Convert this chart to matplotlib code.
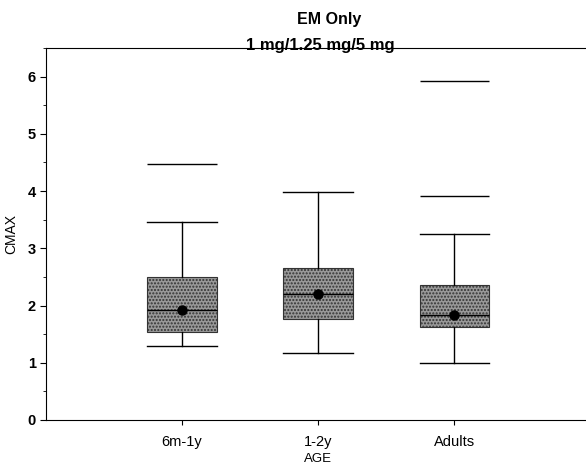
import numpy as np
import matplotlib.pyplot as plt
from matplotlib.ticker import MultipleLocator

plt.rcParams['font.family'] = ['Liberation Sans', 'DejaVu Sans']

groups = ["6m-1y", "1-2y", "Adults"]
q1 = [1.54, 1.77, 1.63]
med = [1.92, 2.20, 1.84]
q3 = [2.50, 2.66, 2.36]
whislo = [1.29, 1.17, 0.99]
whishi = [3.46, 3.99, 3.25]
means = [1.92, 2.20, 1.83]
outliers = [[4.48], [], [3.92, 5.93]]

stats = []
for i, g in enumerate(groups):
    stats.append(dict(label=g, q1=q1[i], med=med[i], q3=q3[i], whislo=whislo[i],
                      whishi=whishi[i], mean=means[i], fliers=[]))

fig = plt.figure(figsize=(5.86, 4.65), dpi=100)
ax = fig.add_axes([0.078, 0.0968, 0.93, 0.80])

pos = np.arange(1, len(groups) + 1)
w = 0.51
bp = ax.bxp(stats, positions=pos, widths=w, patch_artist=True, showmeans=True,
            showfliers=False,
            boxprops=dict(facecolor='#999999', edgecolor='#333333', linewidth=0.8, hatch='.....'),
            medianprops=dict(color='black', linewidth=1.0),
            whiskerprops=dict(color='black', linewidth=1.0),
            capprops=dict(color='black', linewidth=1.0),
            capwidths=w,
            meanprops=dict(marker='o', markerfacecolor='black', markeredgecolor='black', markersize=6.5))

# outliers drawn as horizontal bars
for p, vals in zip(pos, outliers):
    for v in vals:
        ax.hlines(v, p - w / 2, p + w / 2, color='black', linewidth=1.0)

ax.set_xlim(0, 4.0)
ax.set_ylim(0, 6.5)
ax.yaxis.set_major_locator(MultipleLocator(1))
ax.yaxis.set_minor_locator(MultipleLocator(0.5))
ax.set_xticks(pos)
ax.set_xticklabels(groups, fontsize=10.5)
ax.tick_params(axis='y', labelsize=10.5, direction='out', length=4, pad=3)
ax.tick_params(axis='y', which='minor', length=2)
ax.tick_params(axis='x', direction='out', length=3.5, pad=7)
for lab in ax.get_yticklabels():
    lab.set_fontweight('bold')
ax.spines['right'].set_visible(False)

ax.set_xlabel("AGE", fontsize=9.5, labelpad=3)
ax.set_ylabel("CMAX", fontsize=10, labelpad=7)

fig.text(0.561, 0.957, "EM Only", ha='center', va='center', fontsize=11.5, fontweight='bold')
fig.text(0.546, 0.903, "1 mg/1.25 mg/5 mg", ha='center', va='center', fontsize=12, fontweight='bold')

fig.savefig("out.png", dpi=100)
